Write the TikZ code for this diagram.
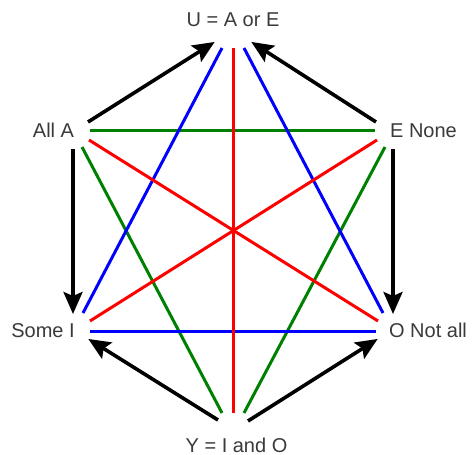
\documentclass[tikz,border=0pt]{standalone}
\usepackage{fontspec}
\setmainfont{Liberation Sans}
\usetikzlibrary{arrows.meta}
\definecolor{txtgray}{HTML}{3A3A3A}
\definecolor{lgreen}{HTML}{008000}
\begin{document}
\begin{tikzpicture}[x=1pt,y=-1pt,
  lbl/.style={font=\fontsize{20}{24}\selectfont, text=txtgray, inner sep=0pt, anchor=base},
  colline/.style={line width=3pt},
  implies/.style={line width=3.6pt, black, -{Stealth[length=22pt,width=19pt,inset=4pt]}, shorten >=-2pt}
]
\useasboundingbox (0,0) rectangle (472,455);
% labels
\node[lbl] (U) at (233,27) {U = A or E};
\node[lbl] (A) at (53.5,137) {All A};
\node[lbl] (E) at (423.5,137) {E None};
\node[lbl] (I) at (43,337) {Some I};
\node[lbl] (O) at (428,337) {O Not all};
\node[lbl] (Y) at (236.5,452) {Y = I and O};
% endpoints
\coordinate (Ub) at (233,48);
\coordinate (Ul) at (222,48);
\coordinate (Ur) at (244,48);
\coordinate (Ab) at (89,140);
\coordinate (Ah) at (90,130);
\coordinate (Ag) at (82,147);
\coordinate (Eb) at (377,140);
\coordinate (Eh) at (375,130);
\coordinate (Eg) at (385,147);
\coordinate (Ib) at (90,321);
\coordinate (Ih) at (90,331);
\coordinate (Iu) at (83,313);
\coordinate (Ob) at (378,321);
\coordinate (Oh) at (376,331);
\coordinate (Ou) at (383,313);
\coordinate (Yb) at (233,413);
\coordinate (Yl) at (222,413);
\coordinate (Yr) at (244,413);
% coloured lines
\draw[colline, lgreen] (Ah) -- (Eh);
\draw[colline, lgreen] (Ag) -- (Yl);
\draw[colline, lgreen] (Eg) -- (Yr);
\draw[colline, blue] (Ih) -- (Oh);
\draw[colline, blue] (Ul) -- (Iu);
\draw[colline, blue] (Ur) -- (Ou);
\draw[colline, red] (Ab) -- (Ob);
\draw[colline, red] (Eb) -- (Ib);
\draw[colline, red] (Ub) -- (Yb);
% implication arrows
\coordinate (Aa) at (88,122);
\coordinate (Ua) at (213,43);
\coordinate (Ea) at (376,122);
\coordinate (Ub2) at (253,43);
\coordinate (Ad) at (73,149);
\coordinate (Id) at (73,312);
\coordinate (Ed) at (393,149);
\coordinate (Od) at (393,312);
\coordinate (Yal) at (218,420);
\coordinate (Ia) at (90,340);
\coordinate (Yar) at (248,421);
\coordinate (Oa) at (376,340);
\draw[implies] (Aa) -- (Ua);
\draw[implies] (Ea) -- (Ub2);
\draw[implies] (Ad) -- (Id);
\draw[implies] (Ed) -- (Od);
\draw[implies] (Yal) -- (Ia);
\draw[implies] (Yar) -- (Oa);
\end{tikzpicture}
\end{document}
